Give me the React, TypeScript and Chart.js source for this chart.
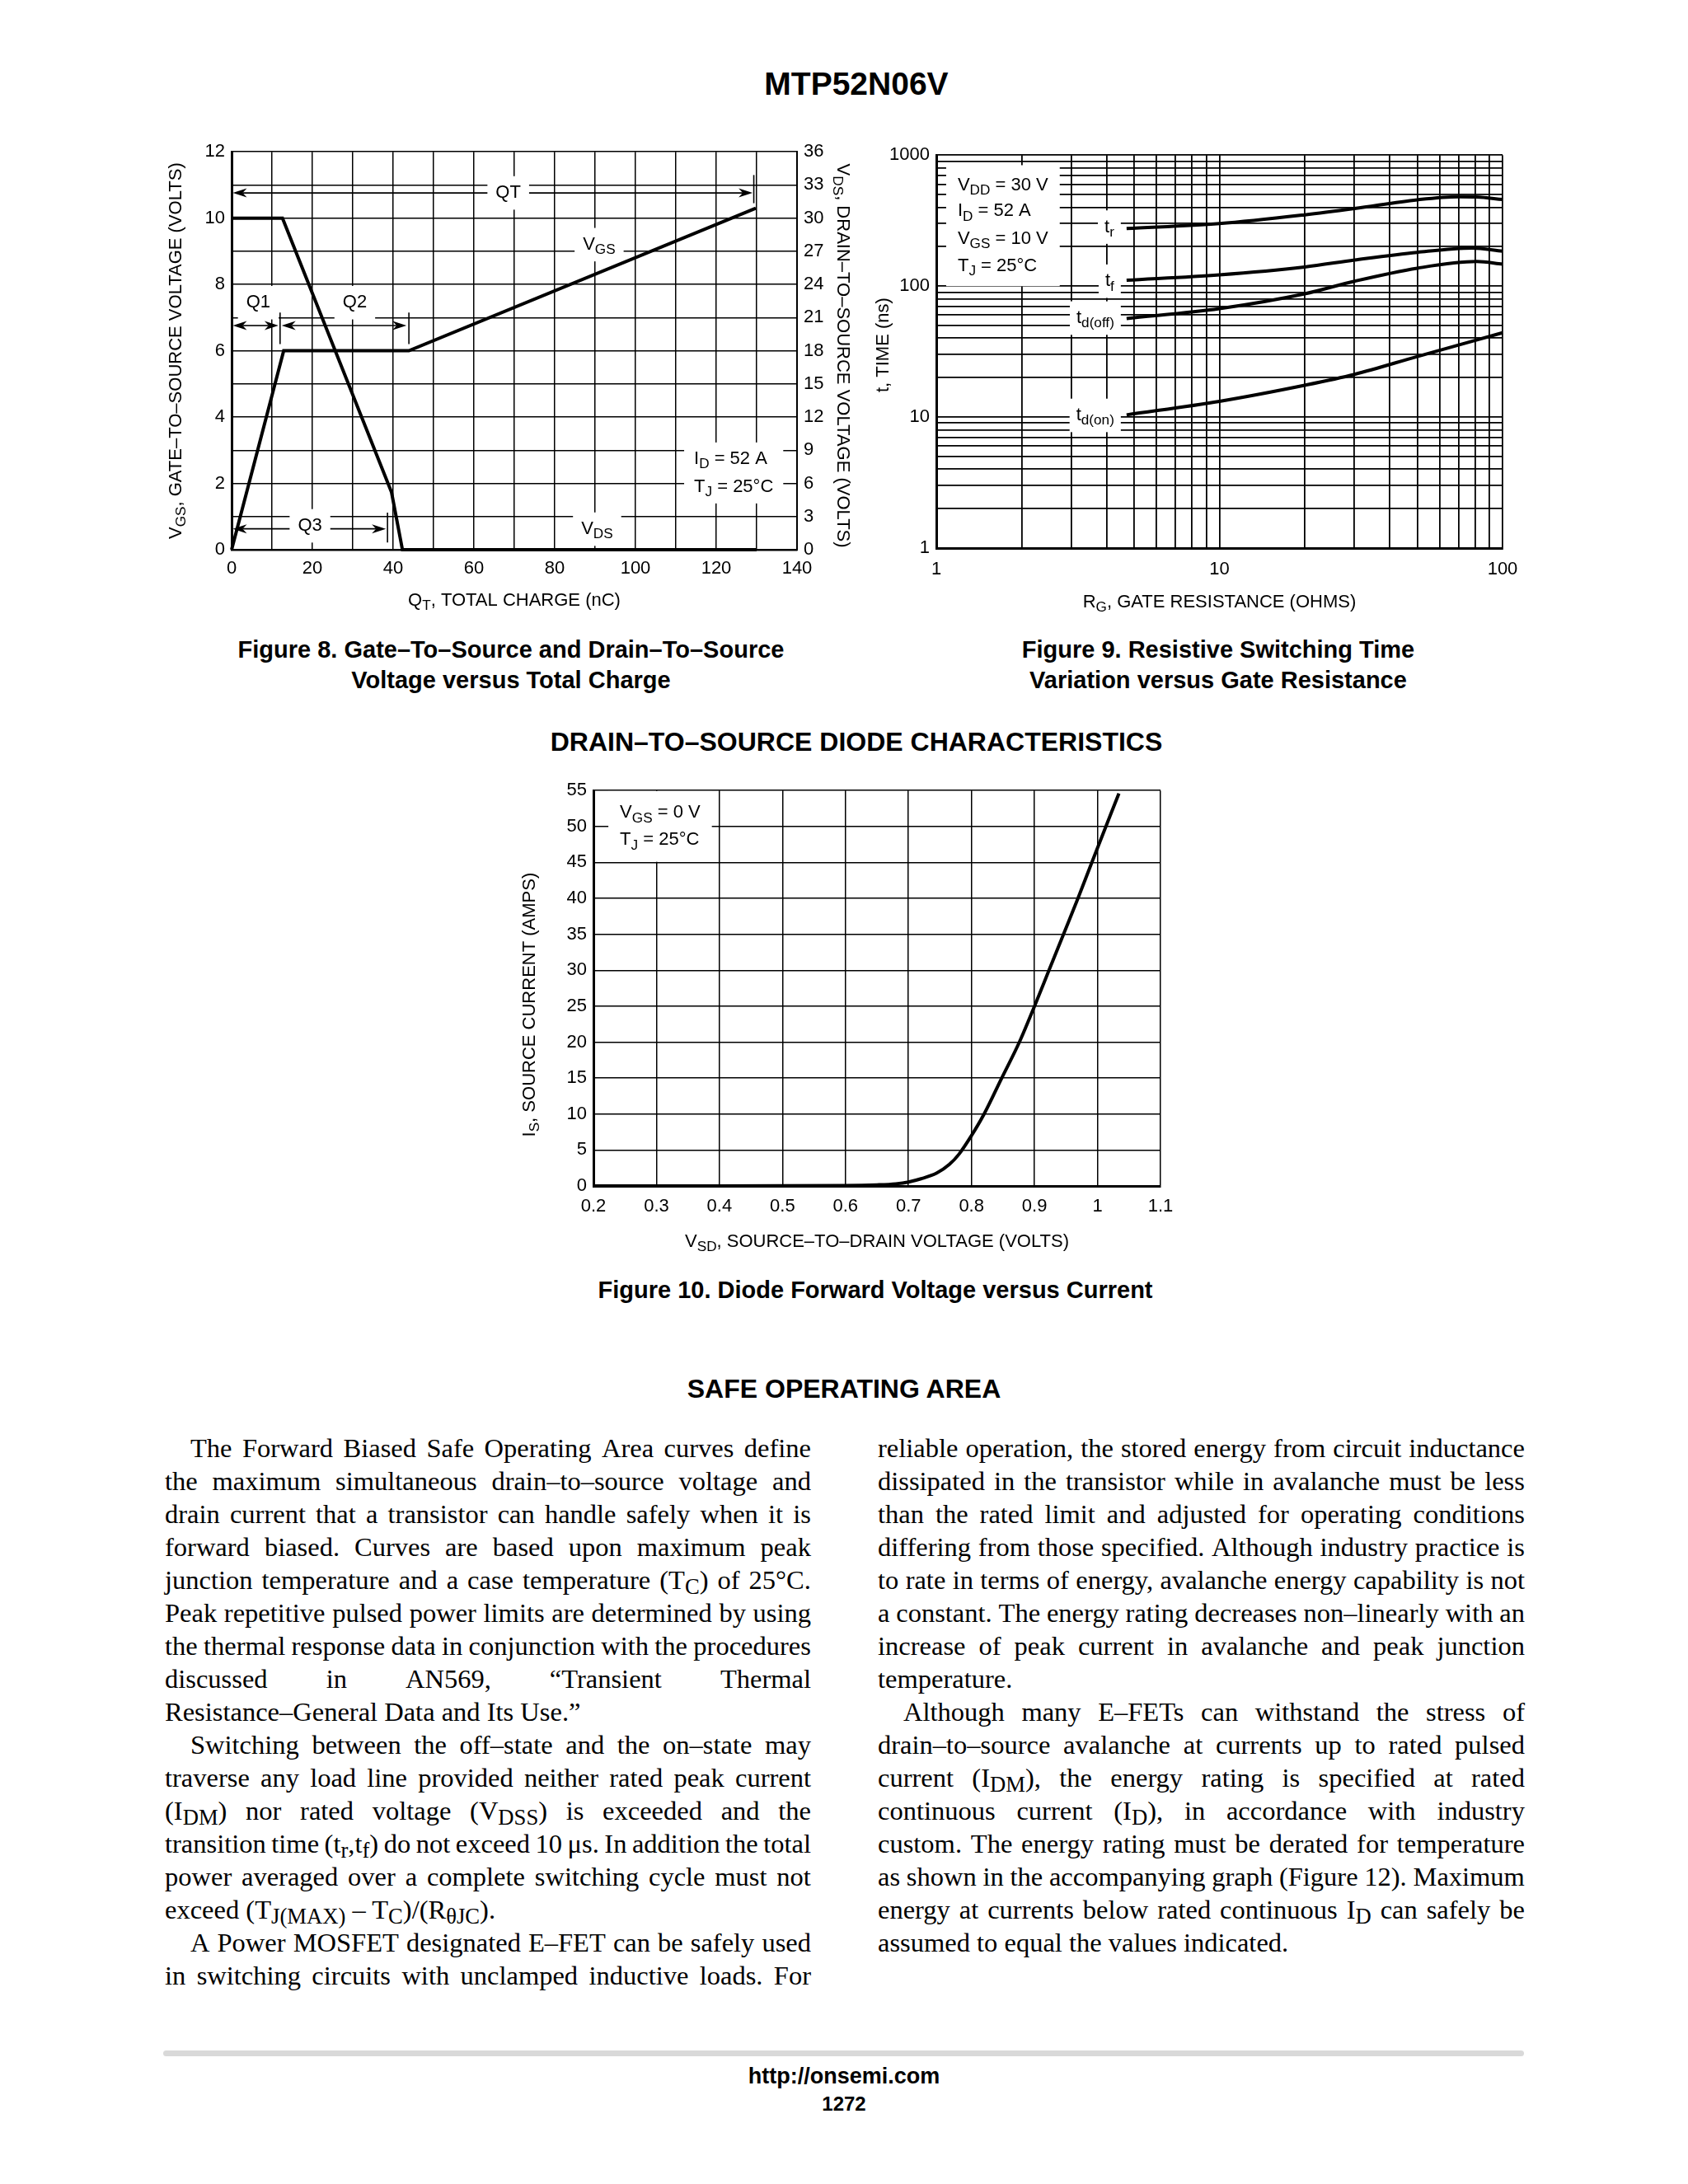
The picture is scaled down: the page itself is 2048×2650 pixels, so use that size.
import React, { useEffect, useRef } from "react";
import { Chart, registerables } from "chart.js";

Chart.register(...registerables);

const SANS = "'Liberation Sans', Arial, Helvetica, sans-serif";
const SERIF = "'Liberation Serif', 'Times New Roman', Times, serif";
const TICK_SIZE = 22;
const LABEL_SIZE = 22;
const SUB = 0.78;

/* ---------------- Figure 8 : gate charge ---------------- */
const fig8QgVgs = [0, 12.9, 43.9, 129.8];
const fig8Vgs = [0, 6, 6, 10.3];
const fig8QgVds = [0, 12.6, 39.6, 42.3, 130];
const fig8Vds = [30, 30, 5.2, 0, 0];
const fig8XGrid = [0, 10, 20, 30, 40, 50, 60, 70, 80, 90, 100, 110, 120, 130, 140];
const fig8XLabels = [0, 20, 40, 60, 80, 100, 120, 140];
const fig8YGrid = [0, 1, 2, 3, 4, 5, 6, 7, 8, 9, 10, 11, 12];
const fig8YLabels = [0, 2, 4, 6, 8, 10, 12];
const fig8Y2Labels = [0, 3, 6, 9, 12, 15, 18, 21, 24, 27, 30, 33, 36];
const fig8Arrows = [
  { x1: 0.3, x2: 129, y: 10.76 },
  { x1: 0.3, x2: 11.6, y: 6.76 },
  { x1: 12.4, x2: 43.3, y: 6.76 },
  { x1: 0.3, x2: 38.2, y: 0.63 },
];
const fig8Bars = [
  { x: 129.3, y1: 10.45, y2: 11.3 },
  { x: 12.0, y1: 6.2, y2: 7.15 },
  { x: 43.9, y1: 6.2, y2: 7.15 },
  { x: 38.6, y1: 0.22, y2: 1.12 },
];
const fig8Labels = [
  { text: "QT", x: 68.5, y: 10.76 },
  { text: "V_{GS}", x: 91, y: 9.2 },
  { text: "Q1", x: 6.6, y: 7.45 },
  { text: "Q2", x: 30.5, y: 7.45 },
  { text: "Q3", x: 19.4, y: 0.72 },
  { text: "V_{DS}", x: 90.5, y: 0.62 },
];
const fig8Cond = { texts: ["I_{D} = 52 A", "T_{J} = 25°C"], x: 114.5, ys: [2.73, 1.9] };

/* ---------------- Figure 9 : switching time ---------------- */
const fig9RgTr = [4.7, 10, 20, 30, 50, 70, 81, 100];
const fig9Tr = [275, 300, 350, 391, 456, 481, 479, 458];
const fig9RgTf = [4.7, 10, 20, 30, 50, 78, 100];
const fig9Tf = [111, 122, 140, 158, 181, 195, 185];
const fig9RgTdOff = [4.7, 10, 20, 30, 50, 81, 100];
const fig9TdOff = [56.6, 67.3, 87.3, 109, 137, 154, 147];
const fig9RgTdOn = [4.7, 10, 20, 30, 50, 100];
const fig9TdOn = [10.4, 13.2, 17.5, 21.2, 29, 44];
const fig9XGrid = [1, 2, 3, 4, 5, 6, 7, 8, 9, 10, 20, 30, 40, 50, 60, 70, 80, 90, 100];
const fig9XLabels = [1, 10, 100];
const fig9YGrid = [1, 2, 3, 4, 5, 6, 7, 8, 9, 10, 20, 30, 40, 50, 60, 70, 80, 90, 100, 200, 300, 400, 500, 600, 700, 800, 900, 1000];
const fig9YLabels = [1, 10, 100, 1000];
const fig9CurveLabels = [
  { text: "t_{r}", x: 4.25, y: 282 },
  { text: "t_{f}", x: 4.25, y: 109 },
  { text: "t_{d(off)}", x: 4.25, y: 57 },
  { text: "t_{d(on)}", x: 4.25, y: 10.3 },
];
const fig9Cond = {
  texts: ["V_{DD} = 30 V", "I_{D} = 52 A", "V_{GS} = 10 V", "T_{J} = 25°C"],
  x: 1.19,
  ys: [589, 373, 230, 142],
};

/* ---------------- Figure 10 : diode ---------------- */
const fig10Vsd = [0.2, 0.4, 0.6, 0.65, 0.68, 0.7, 0.72, 0.745, 0.765, 0.78, 0.8, 0.82, 0.848, 0.876, 0.9, 0.923, 0.946, 0.969, 0.991, 1.034];
const fig10Is = [0, 0, 0.05, 0.15, 0.3, 0.55, 1.0, 1.8, 3.0, 4.4, 7, 10, 15, 20, 25, 30, 35, 40, 45, 54.6];
const fig10XGrid = [0.2, 0.3, 0.4, 0.5, 0.6, 0.7, 0.8, 0.9, 1, 1.1];
const fig10YGrid = [0, 5, 10, 15, 20, 25, 30, 35, 40, 45, 50, 55];
const fig10Cond = { texts: ["V_{GS} = 0 V", "T_{J} = 25°C"], x: 0.242, ys: [51.9, 48.1] };

/* ---------------- body text ---------------- */
const leftColumnLines: [string, string][] = [
  ["i", "The Forward Biased Safe Operating Area curves define"],
  ["", "the maximum simultaneous drain–to–source voltage and"],
  ["", "drain current that a transistor can handle safely when it is"],
  ["", "forward biased. Curves are based upon maximum peak"],
  ["", "junction temperature and a case temperature (T_{C}) of 25°C."],
  ["", "Peak repetitive pulsed power limits are determined by using"],
  ["", "the thermal response data in conjunction with the procedures"],
  ["", "discussed in AN569, “Transient Thermal"],
  ["l", "Resistance–General Data and Its Use.”"],
  ["i", "Switching between the off–state and the on–state may"],
  ["", "traverse any load line provided neither rated peak current"],
  ["", "(I_{DM}) nor rated voltage (V_{DSS}) is exceeded and the"],
  ["", "transition time (t_{r},t_{f}) do not exceed 10 μs. In addition the total"],
  ["", "power averaged over a complete switching cycle must not"],
  ["l", "exceed (T_{J(MAX)} – T_{C})/(R_{θJC})."],
  ["i", "A Power MOSFET designated E–FET can be safely used"],
  ["", "in switching circuits with unclamped inductive loads. For"],
];
const rightColumnLines: [string, string][] = [
  ["", "reliable operation, the stored energy from circuit inductance"],
  ["", "dissipated in the transistor while in avalanche must be less"],
  ["", "than the rated limit and adjusted for operating conditions"],
  ["", "differing from those specified. Although industry practice is"],
  ["", "to rate in terms of energy, avalanche energy capability is not"],
  ["", "a constant. The energy rating decreases non–linearly with an"],
  ["", "increase of peak current in avalanche and peak junction"],
  ["l", "temperature."],
  ["i", "Although many E–FETs can withstand the stress of"],
  ["", "drain–to–source avalanche at currents up to rated pulsed"],
  ["", "current (I_{DM}), the energy rating is specified at rated"],
  ["", "continuous current (I_{D}), in accordance with industry"],
  ["", "custom. The energy rating must be derated for temperature"],
  ["", "as shown in the accompanying graph (Figure 12). Maximum"],
  ["", "energy at currents below rated continuous I_{D} can safely be"],
  ["l", "assumed to equal the values indicated."],
];

/* ---------------- helpers ---------------- */
function richSegs(str: string) {
  const out: { t: string; sub: boolean }[] = [];
  const re = /_\{([^}]*)\}/g;
  let last = 0;
  let m: RegExpExecArray | null;
  while ((m = re.exec(str))) {
    if (m.index > last) out.push({ t: str.slice(last, m.index), sub: false });
    out.push({ t: m[1], sub: true });
    last = re.lastIndex;
  }
  if (last < str.length) out.push({ t: str.slice(last), sub: false });
  return out;
}
const fontStr = (size: number) => `${size}px ${SANS}`;

function measureRich(ctx: CanvasRenderingContext2D, str: string, size: number) {
  const segs = richSegs(str);
  const widths = segs.map((s) => {
    ctx.font = fontStr(s.sub ? size * SUB : size);
    return ctx.measureText(s.t).width;
  });
  return { segs, widths, total: widths.reduce((a, b) => a + b, 0) };
}

function drawRich(
  ctx: CanvasRenderingContext2D,
  str: string,
  x: number,
  y: number,
  size: number,
  align: "left" | "center" | "right" = "center",
  rot = 0,
  bg?: { padX: number; padY: number }
) {
  const { segs, widths, total } = measureRich(ctx, str, size);
  ctx.save();
  ctx.translate(x, y);
  if (rot) ctx.rotate(rot);
  let cx = align === "left" ? 0 : align === "right" ? -total : -total / 2;
  if (bg) {
    ctx.fillStyle = "#fff";
    ctx.fillRect(cx - bg.padX, -size * 0.65 - bg.padY, total + 2 * bg.padX, size * 1.3 + 2 * bg.padY);
  }
  ctx.fillStyle = "#000";
  ctx.textAlign = "left";
  ctx.textBaseline = "middle";
  segs.forEach((s, i) => {
    ctx.font = fontStr(s.sub ? size * SUB : size);
    ctx.fillText(s.t, cx, s.sub ? size * 0.3 : 0);
    cx += widths[i];
  });
  ctx.restore();
}

function drawBlock(ctx: CanvasRenderingContext2D, xs: any, ys: any, b: { texts: string[]; x: number; ys: number[] }, padX: number, padY: number) {
  const px = xs.getPixelForValue(b.x);
  const pys = b.ys.map((v) => ys.getPixelForValue(v));
  const w = Math.max(...b.texts.map((t) => measureRich(ctx, t, LABEL_SIZE).total));
  const top = Math.min(...pys) - LABEL_SIZE * 0.65 - padY;
  const bottom = Math.max(...pys) + LABEL_SIZE * 0.65 + padY;
  ctx.save();
  ctx.fillStyle = "#fff";
  ctx.fillRect(px - padX, top, w + 2 * padX, bottom - top);
  ctx.restore();
  b.texts.forEach((t, i) => drawRich(ctx, t, px, pys[i], LABEL_SIZE, "left"));
}

function drawArrow(ctx: CanvasRenderingContext2D, x1: number, x2: number, y: number) {
  const hl = 17;
  const hw = 5.5;
  ctx.save();
  ctx.strokeStyle = "#000";
  ctx.fillStyle = "#000";
  ctx.lineWidth = 1.6;
  ctx.beginPath();
  ctx.moveTo(x1 + hl * 0.7, y);
  ctx.lineTo(x2 - hl * 0.7, y);
  ctx.stroke();
  ctx.beginPath();
  ctx.moveTo(x1, y);
  ctx.lineTo(x1 + hl, y - hw);
  ctx.lineTo(x1 + hl * 0.7, y);
  ctx.lineTo(x1 + hl, y + hw);
  ctx.closePath();
  ctx.fill();
  ctx.beginPath();
  ctx.moveTo(x2, y);
  ctx.lineTo(x2 - hl, y - hw);
  ctx.lineTo(x2 - hl * 0.7, y);
  ctx.lineTo(x2 - hl, y + hw);
  ctx.closePath();
  ctx.fill();
  ctx.restore();
}

function drawBar(ctx: CanvasRenderingContext2D, x: number, y1: number, y2: number) {
  ctx.save();
  ctx.strokeStyle = "#000";
  ctx.lineWidth = 1.6;
  ctx.beginPath();
  ctx.moveTo(x, y1);
  ctx.lineTo(x, y2);
  ctx.stroke();
  ctx.restore();
}

const fixedTicks = (values: number[]) => (scale: any) => {
  scale.ticks = values.map((v) => ({ value: v }));
};
const labelIf = (labels: number[]) => (v: any) =>
  labels.some((l) => Math.abs(l - Number(v)) < 1e-9) ? String(v) : "";

function axis(extra: any) {
  const { gridWidth = 1.5, borderWidth = 2, padding = 8, ...rest } = extra;
  return {
    grid: { color: "#000", lineWidth: gridWidth, drawTicks: false },
    border: { display: true, color: "#000", width: borderWidth },
    ...rest,
    ticks: {
      color: "#000",
      font: { family: SANS, size: TICK_SIZE },
      padding,
      autoSkip: false,
      maxRotation: 0,
      minRotation: 0,
      ...(rest.ticks || {}),
    },
  };
}

const baseOptions = (padTop: number, padRight: number) => ({
  animation: false,
  responsive: false,
  maintainAspectRatio: false,
  events: [],
  layout: { padding: { top: padTop, left: 0, right: padRight, bottom: 0 } },
  plugins: { legend: { display: false }, tooltip: { enabled: false }, title: { display: false } },
});

const lineDs = (xs: number[], ys: number[], extra: any = {}) => ({
  data: xs.map((x, i) => ({ x, y: ys[i] })),
  borderColor: "#000",
  backgroundColor: "#000",
  borderWidth: 4,
  pointRadius: 0,
  fill: false,
  clip: false,
  ...extra,
});

/* ---------------- chart configs ---------------- */
const FIG8 = { plotLeft: 281, plotTop: 183, plotW: 686, plotH: 484, L: 110, R: 90, T: 20, B: 90 };
const FIG9 = { plotLeft: 1136, plotTop: 187, plotW: 687, plotH: 478, L: 110, R: 50, T: 20, B: 90 };
const FIG10 = { plotLeft: 720, plotTop: 958, plotW: 688, plotH: 481, L: 110, R: 50, T: 20, B: 100 };

function fig8Config() {
  const plugin = {
    id: "fig8annot",
    beforeDatasetsDraw(chart: any) {
      const { ctx, scales } = chart;
      const x = scales.x;
      const y = scales.y;
      fig8Arrows.forEach((a) => drawArrow(ctx, x.getPixelForValue(a.x1), x.getPixelForValue(a.x2), y.getPixelForValue(a.y)));
      fig8Bars.forEach((b) => drawBar(ctx, x.getPixelForValue(b.x), y.getPixelForValue(b.y1), y.getPixelForValue(b.y2)));
      fig8Labels.forEach((l) =>
        drawRich(ctx, l.text, x.getPixelForValue(l.x), y.getPixelForValue(l.y), LABEL_SIZE, "center", 0, { padX: 10, padY: 6 })
      );
      drawBlock(ctx, x, y, fig8Cond, 12, 6);
    },
    afterDraw(chart: any) {
      const { ctx, chartArea: a } = chart;
      const cy = (a.top + a.bottom) / 2;
      drawRich(ctx, "V_{GS}, GATE–TO–SOURCE VOLTAGE (VOLTS)", a.left - 67, cy, LABEL_SIZE, "center", -Math.PI / 2);
      drawRich(ctx, "V_{DS}, DRAIN–TO–SOURCE VOLTAGE (VOLTS)", a.right + 55, cy + 6, LABEL_SIZE, "center", Math.PI / 2);
      drawRich(ctx, "Q_{T}, TOTAL CHARGE (nC)", (a.left + a.right) / 2, a.bottom + 62, LABEL_SIZE, "center");
    },
  };
  return {
    type: "line",
    data: {
      datasets: [
        lineDs(fig8QgVgs, fig8Vgs, { yAxisID: "y", tension: 0 }),
        lineDs(fig8QgVds, fig8Vds, { yAxisID: "y2", tension: 0 }),
      ],
    },
    options: {
      ...baseOptions(FIG8.T, 0),
      scales: {
        x: axis({
          type: "linear",
          position: "bottom",
          min: 0,
          max: 140,
          borderWidth: 2.5,
          padding: 10,
          afterBuildTicks: fixedTicks(fig8XGrid),
          afterFit: (s: any) => { s.height = FIG8.B; },
          ticks: { callback: labelIf(fig8XLabels) },
        }),
        y: axis({
          type: "linear",
          position: "left",
          min: 0,
          max: 12,
          borderWidth: 3,
          afterBuildTicks: fixedTicks(fig8YGrid),
          afterFit: (s: any) => { s.width = FIG8.L; },
          ticks: { callback: labelIf(fig8YLabels) },
        }),
        y2: axis({
          type: "linear",
          position: "right",
          min: 0,
          max: 36,
          borderWidth: 2,
          afterBuildTicks: fixedTicks(fig8Y2Labels),
          afterFit: (s: any) => { s.width = FIG8.R; },
          grid: { display: false, drawTicks: false },
          ticks: { callback: labelIf(fig8Y2Labels) },
        }),
      },
    },
    plugins: [plugin],
  };
}

function fig9Config() {
  const plugin = {
    id: "fig9annot",
    beforeDatasetsDraw(chart: any) {
      const { ctx, scales } = chart;
      const x = scales.x;
      const y = scales.y;
      fig9CurveLabels.forEach((l) =>
        drawRich(ctx, l.text, x.getPixelForValue(l.x), y.getPixelForValue(l.y), LABEL_SIZE, "right", 0, { padX: 8, padY: 6 })
      );
      drawBlock(ctx, x, y, fig9Cond, 14, 10);
    },
    afterDraw(chart: any) {
      const { ctx, chartArea: a } = chart;
      drawRich(ctx, "t, TIME (ns)", a.left - 64, (a.top + a.bottom) / 2 - 8, LABEL_SIZE, "center", -Math.PI / 2);
      drawRich(ctx, "R_{G}, GATE RESISTANCE (OHMS)", (a.left + a.right) / 2, a.bottom + 66, LABEL_SIZE, "center");
    },
  };
  const mono = { cubicInterpolationMode: "monotone" };
  return {
    type: "line",
    data: {
      datasets: [
        lineDs(fig9RgTr, fig9Tr, mono),
        lineDs(fig9RgTf, fig9Tf, mono),
        lineDs(fig9RgTdOff, fig9TdOff, mono),
        lineDs(fig9RgTdOn, fig9TdOn, mono),
      ],
    },
    options: {
      ...baseOptions(FIG9.T, FIG9.R),
      scales: {
        x: axis({
          type: "logarithmic",
          position: "bottom",
          min: 1,
          max: 100,
          gridWidth: 1.8,
          borderWidth: 3,
          padding: 13,
          afterBuildTicks: fixedTicks(fig9XGrid),
          afterFit: (s: any) => { s.height = FIG9.B; },
          ticks: { callback: labelIf(fig9XLabels) },
        }),
        y: axis({
          type: "logarithmic",
          position: "left",
          min: 1,
          max: 1000,
          gridWidth: 1.8,
          borderWidth: 3,
          afterBuildTicks: fixedTicks(fig9YGrid),
          afterFit: (s: any) => { s.width = FIG9.L; },
          ticks: { callback: labelIf(fig9YLabels) },
        }),
      },
    },
    plugins: [plugin],
  };
}

function fig10Config() {
  const plugin = {
    id: "fig10annot",
    beforeDatasetsDraw(chart: any) {
      const { ctx, scales } = chart;
      drawBlock(ctx, scales.x, scales.y, fig10Cond, 14, 12);
    },
    afterDraw(chart: any) {
      const { ctx, chartArea: a } = chart;
      drawRich(ctx, "I_{S}, SOURCE CURRENT (AMPS)", a.left - 77, (a.top + a.bottom) / 2 + 20, LABEL_SIZE, "center", -Math.PI / 2);
      drawRich(ctx, "V_{SD}, SOURCE–TO–DRAIN VOLTAGE (VOLTS)", (a.left + a.right) / 2, a.bottom + 68, LABEL_SIZE, "center");
    },
  };
  return {
    type: "line",
    data: {
      datasets: [lineDs(fig10Vsd, fig10Is, { cubicInterpolationMode: "monotone" })],
    },
    options: {
      ...baseOptions(FIG10.T, FIG10.R),
      scales: {
        x: axis({
          type: "linear",
          position: "bottom",
          min: 0.2,
          max: 1.1,
          borderWidth: 3,
          padding: 12,
          afterBuildTicks: fixedTicks(fig10XGrid),
          afterFit: (s: any) => { s.height = FIG10.B; },
          ticks: { callback: labelIf(fig10XGrid) },
        }),
        y: axis({
          type: "linear",
          position: "left",
          min: 0,
          max: 55,
          borderWidth: 3,
          afterBuildTicks: fixedTicks(fig10YGrid),
          afterFit: (s: any) => { s.width = FIG10.L; },
          ticks: { callback: labelIf(fig10YGrid) },
        }),
      },
    },
    plugins: [plugin],
  };
}

/* ---------------- components ---------------- */
function ChartCanvas({ geo, build }: { geo: typeof FIG8; build: () => any }) {
  const ref = useRef<HTMLCanvasElement | null>(null);
  const left = geo.plotLeft - geo.L;
  const top = geo.plotTop - geo.T;
  const width = geo.plotW + geo.L + geo.R;
  const height = geo.plotH + geo.T + geo.B;
  useEffect(() => {
    if (!ref.current) return;
    const chart = new Chart(ref.current, build() as any);
    return () => chart.destroy();
  }, []);
  return (
    <canvas
      ref={ref}
      width={width}
      height={height}
      style={{ position: "absolute", left, top, width, height, display: "block" }}
    />
  );
}

function Txt({ cx, cy, size, bold = true, children }: { cx: number; cy: number; size: number; bold?: boolean; children: any }) {
  const h = Math.round(size * 1.4);
  return (
    <div
      style={{
        position: "absolute",
        left: cx - 700,
        width: 1400,
        top: cy - h / 2,
        height: h,
        lineHeight: `${h}px`,
        textAlign: "center",
        fontFamily: SANS,
        fontWeight: bold ? 700 : 400,
        fontSize: size,
        whiteSpace: "nowrap",
        color: "#000",
      }}
    >
      {children}
    </div>
  );
}

function richHtml(str: string) {
  return richSegs(str).map((s, i) =>
    s.sub ? (
      <span key={i} style={{ fontSize: "0.82em", position: "relative", top: "0.22em" }}>
        {s.t}
      </span>
    ) : (
      <React.Fragment key={i}>{s.t}</React.Fragment>
    )
  );
}

function BodyLine({ flags, text }: { flags: string; text: string }) {
  const indent = flags.includes("i") ? 31 : 0;
  const base: any = { height: 40, lineHeight: "40px", paddingLeft: indent, whiteSpace: "nowrap" };
  if (flags.includes("l")) return <div style={base}>{richHtml(text)}</div>;
  const words = text.split(" ");
  return (
    <div style={{ ...base, display: "flex", justifyContent: "space-between", columnGap: "0.12em" }}>
      {words.map((w, i) => (
        <span key={i}>{richHtml(w)}</span>
      ))}
    </div>
  );
}

function Column({ left, top, width, lines }: { left: number; top: number; width: number; lines: [string, string][] }) {
  return (
    <div style={{ position: "absolute", left, top, width, fontFamily: SERIF, fontSize: 32.5, color: "#000" }}>
      {lines.map(([f, t], i) => (
        <BodyLine key={i} flags={f} text={t} />
      ))}
    </div>
  );
}

export default function App() {
  return (
    <div style={{ position: "absolute", left: 0, top: 0, width: 2048, height: 2650, background: "#fff", overflow: "hidden" }}>
      <Txt cx={1039} cy={101} size={39}>MTP52N06V</Txt>

      <ChartCanvas geo={FIG8} build={fig8Config} />
      <ChartCanvas geo={FIG9} build={fig9Config} />

      <Txt cx={620} cy={788} size={29}>Figure 8. Gate–To–Source and Drain–To–Source</Txt>
      <Txt cx={620} cy={825} size={29}>Voltage versus Total Charge</Txt>
      <Txt cx={1478} cy={788} size={29}>Figure 9. Resistive Switching Time</Txt>
      <Txt cx={1478} cy={825} size={29}>Variation versus Gate Resistance</Txt>

      <Txt cx={1039} cy={900} size={32}>DRAIN–TO–SOURCE DIODE CHARACTERISTICS</Txt>
      <ChartCanvas geo={FIG10} build={fig10Config} />
      <Txt cx={1062} cy={1565} size={29}>Figure 10. Diode Forward Voltage versus Current</Txt>

      <Txt cx={1024} cy={1685} size={32}>SAFE OPERATING AREA</Txt>
      <Column left={200} top={1737} width={784} lines={leftColumnLines} />
      <Column left={1065} top={1737} width={785} lines={rightColumnLines} />

      <div style={{ position: "absolute", left: 198, top: 2488, width: 1651, height: 7, background: "#d9d9d9", borderRadius: 4 }} />
      <Txt cx={1024} cy={2519} size={27}>http://onsemi.com</Txt>
      <Txt cx={1024} cy={2553} size={24}>1272</Txt>
    </div>
  );
}
